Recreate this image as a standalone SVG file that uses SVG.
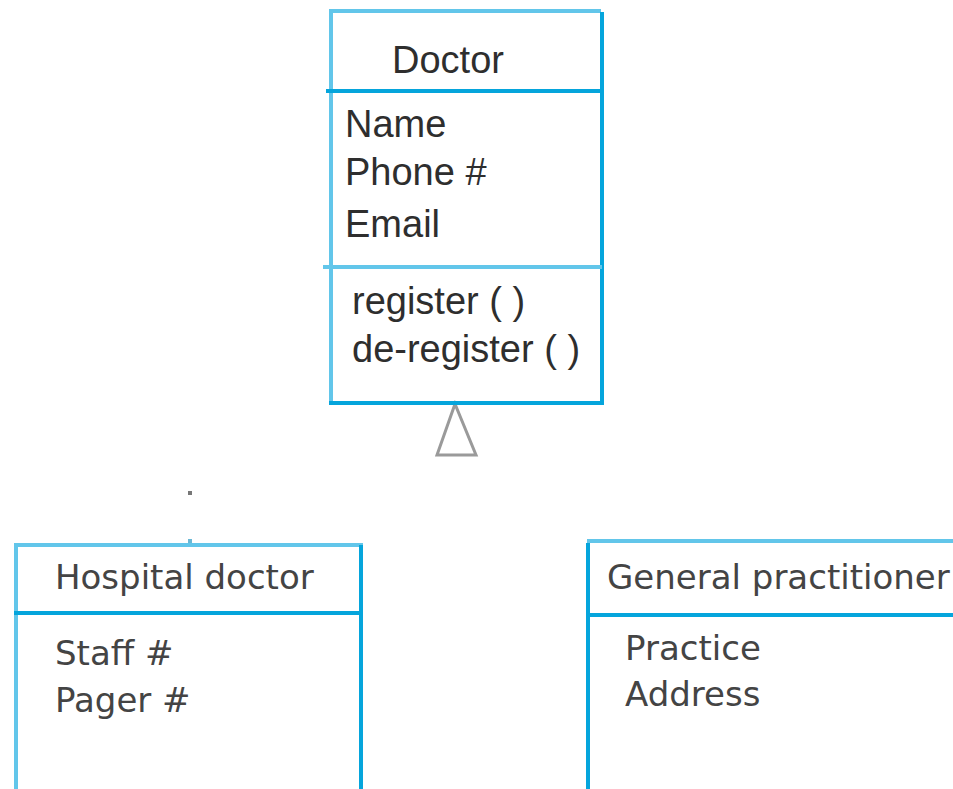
<svg xmlns="http://www.w3.org/2000/svg" width="953" height="789" viewBox="0 0 953 789">
<style>
.lt{stroke:#62c6ea;stroke-width:4;fill:none}
.dk{stroke:#05a5dc;stroke-width:4;fill:none}
.t1{font-family:"Liberation Sans",Arial,sans-serif;font-size:38px;fill:#2e2e2e}
.t2{font-family:"DejaVu Sans",sans-serif;font-size:34px;fill:#444}
</style>
<rect width="953" height="789" fill="#fff"/>
<g id="connectors">
<polygon points="455,404 437,455 476,455" fill="#fff" stroke="#9a9a9a" stroke-width="3"/>
<rect x="188" y="491" width="4" height="4" fill="#777"/>
<rect x="188" y="539" width="4" height="5" fill="#6ab8d6"/>
</g>
<g id="doctor">
<line class="lt" x1="329" y1="11" x2="601" y2="11"/>
<line class="lt" x1="331" y1="11" x2="331" y2="404"/>
<line class="dk" x1="602" y1="12" x2="602" y2="404"/>
<line class="dk" x1="329" y1="403" x2="604" y2="403"/>
<line class="dk" x1="326" y1="91" x2="602" y2="91"/>
<line class="lt" x1="323" y1="267" x2="602" y2="267"/>
<text class="t1" x="392" y="73">Doctor</text>
<text class="t1" x="345" y="137">Name</text>
<text class="t1" x="345" y="185">Phone #</text>
<text class="t1" x="345" y="237">Email</text>
<text class="t1" x="352" y="314">register ( )</text>
<text class="t1" x="352" y="362">de-register ( )</text>
</g>
<g id="hospital">
<line class="lt" x1="14" y1="545" x2="363" y2="545"/>
<line class="lt" x1="16" y1="545" x2="16" y2="795"/>
<line class="dk" x1="361" y1="545" x2="361" y2="795"/>
<line class="dk" x1="14" y1="613" x2="363" y2="613"/>
<text class="t2" x="55" y="589">Hospital doctor</text>
<text class="t2" x="55" y="665">Staff #</text>
<text class="t2" x="55" y="712">Pager #</text>
</g>
<g id="gp">
<line class="lt" x1="587" y1="541" x2="960" y2="541"/>
<line class="dk" x1="588" y1="543" x2="588" y2="795" stroke-width="5"/>
<line class="dk" x1="588" y1="615" x2="960" y2="615"/>
<text class="t2" x="607" y="589">General practitioner</text>
<text class="t2" x="625" y="660">Practice</text>
<text class="t2" x="625" y="706">Address</text>
</g>
</svg>
